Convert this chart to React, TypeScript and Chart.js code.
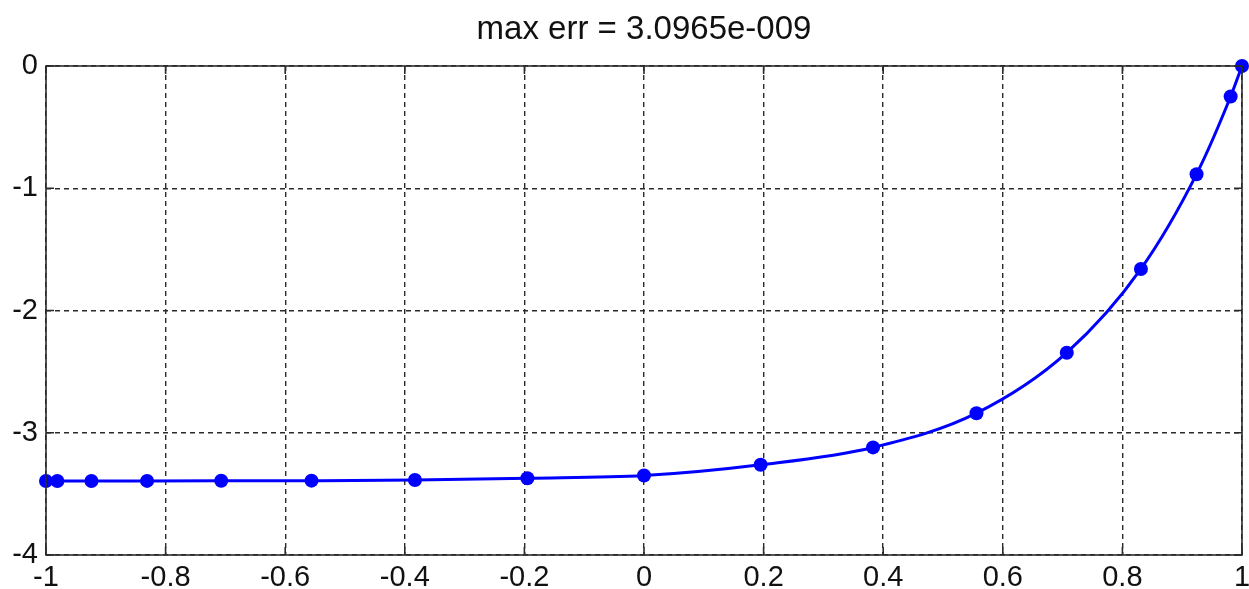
import React, { useEffect, useRef } from "react";
import { Chart, registerables } from "chart.js";

Chart.register(...registerables);

const titleText = "max err = 3.0965e-009";
const xValues = [-1, -0.981, -0.924, -0.831, -0.707, -0.556, -0.383, -0.195, 0, 0.195, 0.383, 0.556, 0.707, 0.831, 0.924, 0.981, 1];
const yValues = [-3.395, -3.395, -3.395, -3.394, -3.393, -3.392, -3.387, -3.372, -3.35, -3.262, -3.12, -2.84, -2.345, -1.66, -0.885, -0.25, 0];
const xTickValues = [-1, -0.8, -0.6, -0.4, -0.2, 0, 0.2, 0.4, 0.6, 0.8, 1];
const xTickLabels = ["-1", "-0.8", "-0.6", "-0.4", "-0.2", "0", "0.2", "0.4", "0.6", "0.8", "1"];
const yTickValues = [-4, -3, -2, -1, 0];
const yTickLabels = ["-4", "-3", "-2", "-1", "0"];

const FONT = "'Liberation Sans', Arial, Helvetica, sans-serif";
const AXIS_COLOR = "#2b2b2b";

const boxPlugin = {
  id: "matlabBox",
  afterLayout(chart: any) {
    const tb = chart.titleBlock;
    if (tb) {
      tb.left = chart.chartArea.left;
      tb.right = chart.chartArea.right;
    }
  },
  afterDraw(chart: any) {
    const { ctx, chartArea, scales } = chart;
    const { left, right, top, bottom } = chartArea;
    ctx.save();
    ctx.strokeStyle = AXIS_COLOR;
    ctx.lineWidth = 1.6;
    ctx.setLineDash([]);
    ctx.strokeRect(left, top, right - left, bottom - top);
    const tl = 8;
    ctx.beginPath();
    xTickValues.forEach((v) => {
      const px = scales.x.getPixelForValue(v);
      ctx.moveTo(px, top);
      ctx.lineTo(px, top + tl);
      ctx.moveTo(px, bottom);
      ctx.lineTo(px, bottom - tl);
    });
    yTickValues.forEach((v) => {
      const py = scales.y.getPixelForValue(v);
      ctx.moveTo(left, py);
      ctx.lineTo(left + tl, py);
      ctx.moveTo(right, py);
      ctx.lineTo(right - tl, py);
    });
    ctx.stroke();
    ctx.restore();
  },
};

export default function App() {
  const canvasRef = useRef<HTMLCanvasElement | null>(null);

  useEffect(() => {
    document.body.style.margin = "0";
    document.body.style.background = "#ffffff";
    const canvas = canvasRef.current;
    if (!canvas) return;
    const points = xValues.map((x, i) => ({ x, y: yValues[i] }));
    const chart = new Chart(canvas, {
      type: "scatter",
      data: {
        datasets: [
          {
            data: points,
            showLine: true,
            borderColor: "#0000ff",
            backgroundColor: "#0000ff",
            borderWidth: 3,
            pointRadius: 7,
            pointBackgroundColor: "#0000ff",
            pointBorderColor: "#0000ff",
            pointBorderWidth: 0,
            cubicInterpolationMode: "monotone",
            clip: false,
          } as any,
        ],
      },
      options: {
        responsive: false,
        animation: false,
        events: [],
        layout: { padding: { left: 0, right: 7, top: 0, bottom: 0 } },
        plugins: {
          legend: { display: false },
          tooltip: { enabled: false },
          title: {
            display: true,
            text: titleText,
            color: "#111",
            font: { family: FONT, size: 33, weight: "normal" as any, lineHeight: 1.2 },
            padding: { top: 10.2, bottom: 16.2 },
          },
        },
        scales: {
          x: {
            type: "linear",
            min: -1,
            max: 1,
            afterBuildTicks: (scale: any) => {
              scale.ticks = xTickValues.map((v) => ({ value: v }));
            },
            afterFit: (scale: any) => {
              scale.height = 34;
              scale.paddingRight = 0;
              scale.paddingLeft = 0;
            },
            ticks: {
              color: "#111",
              font: { family: FONT, size: 29 },
              padding: 6,
              maxRotation: 0,
              autoSkip: false,
              callback: (v: any) => {
                const i = xTickValues.findIndex((t) => Math.abs(t - v) < 1e-9);
                return i >= 0 ? xTickLabels[i] : "";
              },
            },
            grid: { color: AXIS_COLOR, lineWidth: 1.4, drawTicks: false },
            border: { display: false, dash: [5, 4] },
          },
          y: {
            type: "linear",
            min: -4,
            max: 0,
            afterBuildTicks: (scale: any) => {
              scale.ticks = yTickValues.map((v) => ({ value: v }));
            },
            afterFit: (scale: any) => {
              scale.width = 46;
              scale.paddingTop = 0;
              scale.paddingBottom = 0;
            },
            ticks: {
              color: "#111",
              font: { family: FONT, size: 29 },
              padding: 8,
              autoSkip: false,
              callback: (v: any) => {
                const i = yTickValues.findIndex((t) => Math.abs(t - v) < 1e-9);
                return i >= 0 ? yTickLabels[i] : "";
              },
            },
            grid: { color: AXIS_COLOR, lineWidth: 1.4, drawTicks: false },
            border: { display: false, dash: [5, 4] },
          },
        },
      },
      plugins: [boxPlugin],
    });
    return () => chart.destroy();
  }, []);

  return (
    <div style={{ width: 1249, height: 589, background: "#fff" }}>
      <canvas ref={canvasRef} width={1249} height={589} />
    </div>
  );
}
